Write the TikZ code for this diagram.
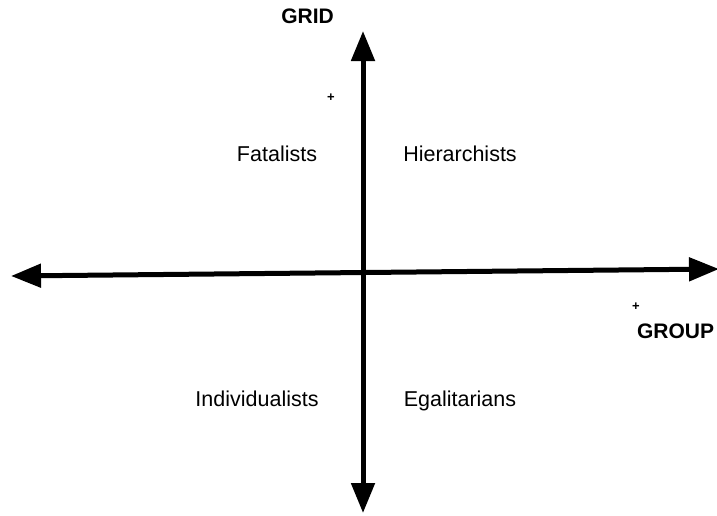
\documentclass[tikz,border=0pt]{standalone}
\usepackage{fontspec}
\setmainfont{Liberation Sans}
\usetikzlibrary{arrows.meta}

\tikzset{
  axis/.style={line width=5pt,
    {Triangle[length=30pt,width=23pt]}-{Triangle[length=30pt,width=23pt]}},
  culture/.style={font=\fontsize{21.5}{24}\selectfont, inner sep=0pt, anchor=base},
  axislabel/.style={font=\bfseries\fontsize{21}{24}\selectfont, inner sep=0pt, anchor=base},
  sign/.style={font=\bfseries\fontsize{13}{14}\selectfont, inner sep=0pt},
}

\begin{document}
\begin{tikzpicture}[x=1pt, y=-1pt]
  \useasboundingbox (0,0) rectangle (717,515);
  % axes
  \coordinate (gridtop) at (363,31);
  \coordinate (gridbot) at (363,513);
  \coordinate (groupleft) at (11,276);
  \coordinate (groupright) at (719,269);
  \draw[axis] (gridbot) -- (gridtop);
  \draw[axis] (groupleft) -- (groupright);
  % axis labels
  \node[axislabel] (gridlab) at (307.5,23) {GRID};
  \node[sign] (gridplus) at (331,98) {+};
  \node[axislabel] (grouplab) at (675.5,338) {GROUP};
  \node[sign] (groupplus) at (636,307) {+};
  % quadrants
  \node[culture] (fat) at (277,161.5) {Fatalists};
  \node[culture] (hier) at (460,161.5) {Hierarchists};
  \node[culture] (ind) at (257,406.5) {Individualists};
  \node[culture] (egal) at (460,406.5) {Egalitarians};
\end{tikzpicture}
\end{document}
